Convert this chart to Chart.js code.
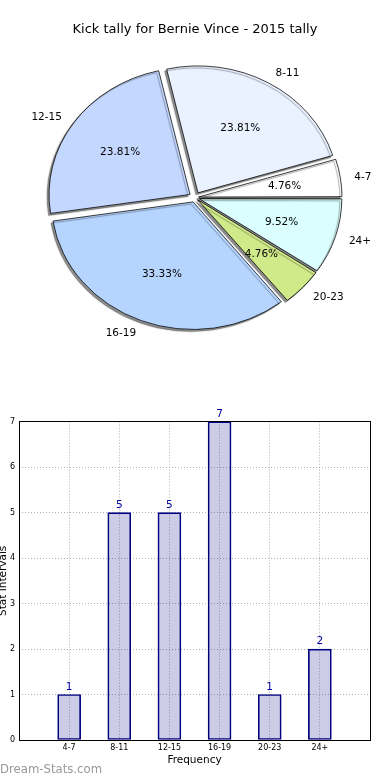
<!DOCTYPE html>
<html><head><meta charset="utf-8">
<script src="https://cdn.jsdelivr.net/npm/chart.js@4.4.0/dist/chart.umd.min.js"></script>
<style>
html,body{margin:0;padding:0;background:#fff;width:390px;height:780px;overflow:hidden;}
#pieWrap{position:absolute;left:0;top:0;width:390px;height:400px;}
#barWrap{position:absolute;left:0;top:400px;width:390px;height:380px;}
</style></head><body>
<div id="pieWrap"><canvas id="pie"></canvas></div>
<div id="barWrap"><canvas id="bar"></canvas></div>
<script>
// ---- data ----
const chartTitle = 'Kick tally for Bernie Vince - 2015 tally';
const categories = ['4-7', '8-11', '12-15', '16-19', '20-23', '24+'];
const counts = [1, 5, 5, 7, 1, 2];
const sliceColors = ['#ffffff', '#eaf2ff', '#c4d8ff', '#b5d5ff', '#d0ea8a', '#dbffff'];
const yTickMax = 7;
const xAxisTitle = 'Frequency';
const yAxisTitle = 'Stat Intervals';
const watermark = 'Dream-Stats.com';

// ---- pie ----
const FONT = "'DejaVu Sans', sans-serif";
const PIE_R = 141, EXPLODE = 6, SY = 0.9;
const total = counts.reduce((a, b) => a + b, 0);
const pieOrder = categories.map((_, i) => categories.length - 1 - i);
const pieLabels = pieOrder.map(i => categories[i]);
const pieData = pieOrder.map(i => counts[i]);
const pieColors = pieOrder.map(i => sliceColors[i]);

function arcOffset(ctx) {
  const circ = ctx.raw / total * 2 * Math.PI;
  const fix = 1 - Math.sin(Math.min(Math.PI, circ));
  return EXPLODE * 4 / (1 + fix);
}

const ellipsePlugin = {
  id: 'ellipse',
  beforeDatasetsDraw(chart) {
    const a = chart.getDatasetMeta(0).data[0];
    const ctx = chart.ctx;
    ctx.save();
    ctx.translate(a.x, a.y); ctx.scale(1, SY); ctx.translate(-a.x, -a.y);
    ctx.shadowColor = 'rgba(0,0,0,0.45)';
    ctx.shadowOffsetX = -2; ctx.shadowOffsetY = 2; ctx.shadowBlur = 1;
  },
  afterDatasetsDraw(chart) { chart.ctx.restore(); }
};

const pieLabelPlugin = {
  id: 'pieLabels',
  afterDraw(chart) {
    const ctx = chart.ctx;
    const meta = chart.getDatasetMeta(0);
    ctx.save();
    ctx.font = '10.5px ' + FONT;
    ctx.fillStyle = '#000';
    ctx.textBaseline = 'middle';
    meta.data.forEach((arc, i) => {
      const idx = pieOrder[i];
      const h = (arc.startAngle + arc.endAngle) / 2;
      const c = Math.cos(h), s = Math.sin(h);
      const R = arc.outerRadius;
      const ox = arc.x + EXPLODE * c, oy = arc.y + SY * EXPLODE * s;
      ctx.textAlign = c >= 0 ? 'left' : 'right';
      ctx.fillText(categories[idx], ox + 1.1 * R * c, oy + SY * 1.1 * R * s + 1);
      ctx.textAlign = 'center';
      ctx.fillText((counts[idx] / total * 100).toFixed(2) + '%', ox + 0.6 * R * c, oy + SY * 0.6 * R * s + 1);
    });
    ctx.restore();
  }
};

new Chart(document.getElementById('pie'), {
  type: 'pie',
  data: { labels: pieLabels, datasets: [{ data: pieData, backgroundColor: pieColors, borderColor: '#000', borderWidth: 0.8, offset: arcOffset, hoverOffset: 0, radius: PIE_R }] },
  options: {
    responsive: true, maintainAspectRatio: false, animation: false, events: [],
    rotation: 90, radius: PIE_R,
    layout: { padding: { top: 0, bottom: 42.6, left: 0, right: 0 } },
    plugins: {
      legend: { display: false }, tooltip: { enabled: false },
      title: { display: true, text: chartTitle, color: '#000', font: { family: FONT, size: 13, weight: 'normal' }, padding: { top: 22, bottom: 0 } }
    }
  },
  plugins: [ellipsePlugin, pieLabelPlugin]
});

// ---- bar ----
const barLabels = [''].concat(categories, ['']);
const barValues = [null].concat(counts, [null]);

function alignPx(p) { return Math.round(p - 0.5) + 0.5; }
const framePlugin = {
  id: 'frame',
  afterDatasetsDraw(chart) {
    const { left, right, top, bottom } = chart.chartArea;
    const ctx = chart.ctx;
    ctx.save();
    ctx.strokeStyle = '#000'; ctx.lineWidth = 1;
    const l = alignPx(left), r = alignPx(right), t = alignPx(top), b = alignPx(bottom);
    ctx.strokeRect(l, t, r - l, b - t);
    ctx.restore();
  }
};
const valueLabelPlugin = {
  id: 'valueLabels',
  afterDatasetsDraw(chart) {
    const ctx = chart.ctx;
    const meta = chart.getDatasetMeta(0);
    ctx.save();
    ctx.font = '10.5px ' + FONT;
    ctx.fillStyle = '#00009a';
    ctx.textAlign = 'center';
    ctx.textBaseline = 'alphabetic';
    meta.data.forEach((bar, i) => {
      const v = barValues[i];
      if (v === null || v === undefined) return;
      ctx.fillText(String(v), bar.x, bar.y - 5);
    });
    ctx.restore();
  }
};
const watermarkPlugin = {
  id: 'watermark',
  afterDraw(chart) {
    const ctx = chart.ctx;
    ctx.save();
    ctx.font = '11.7px ' + FONT;
    ctx.fillStyle = '#999';
    ctx.textAlign = 'left';
    ctx.textBaseline = 'middle';
    ctx.fillText(watermark, 0, 370);
    ctx.restore();
  }
};

new Chart(document.getElementById('bar'), {
  type: 'bar',
  data: { labels: barLabels, datasets: [{ data: barValues, backgroundColor: 'rgba(0,0,128,0.2)', borderColor: '#000080', borderWidth: 1, borderSkipped: false, barThickness: 23 }] },
  options: {
    responsive: true, maintainAspectRatio: false, animation: false, events: [],
    layout: { padding: { left: 0, right: 20, top: 21.7, bottom: 0 } },
    plugins: { legend: { display: false }, tooltip: { enabled: false } },
    scales: {
      x: {
        type: 'category', offset: false,
        grid: { color: '#b0b0b0', lineWidth: 1, drawTicks: false, offset: false },
        border: { display: false, dash: [1, 2] },
        ticks: { color: '#000', font: { family: FONT, size: 8 }, padding: 3, maxRotation: 0, autoSkip: false },
        title: { display: true, text: xAxisTitle, color: '#000', font: { family: FONT, size: 10.5 }, padding: { top: 0, bottom: 13.7 } },
        afterFit(s) { s.height = 40; }
      },
      y: {
        min: 0, max: yTickMax,
        ticks: { stepSize: 1, color: '#000', font: { family: FONT, size: 8 }, padding: 4 },
        grid: { color: '#b0b0b0', lineWidth: 1, drawTicks: false },
        border: { display: false, dash: [1, 2] },
        title: { display: true, text: yAxisTitle, color: '#000', font: { family: FONT, size: 10.5 }, padding: { top: -2.8, bottom: 0 } },
        afterFit(s) { s.width = 19; }
      }
    }
  },
  plugins: [framePlugin, valueLabelPlugin, watermarkPlugin]
});
</script>
</body></html>
